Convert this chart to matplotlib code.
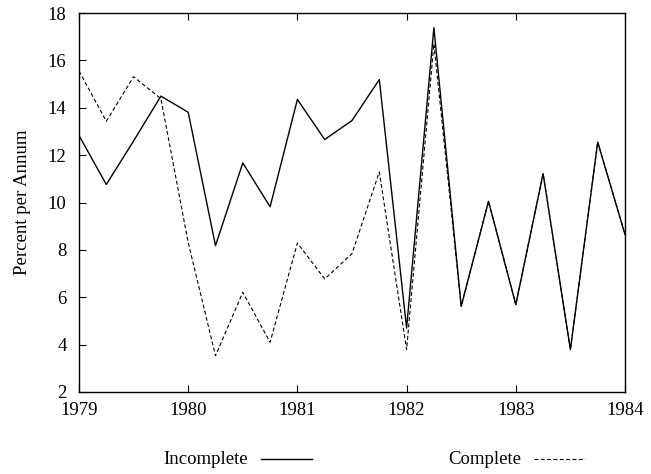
import matplotlib
matplotlib.use("Agg")
import matplotlib.pyplot as plt
from matplotlib.lines import Line2D

plt.rcParams['font.family'] = ['Liberation Serif', 'DejaVu Serif']

quarters = [1979.0, 1979.25, 1979.5, 1979.75, 1980.0, 1980.25, 1980.5, 1980.75,
            1981.0, 1981.25, 1981.5, 1981.75, 1982.0, 1982.25, 1982.5, 1982.75,
            1983.0, 1983.25, 1983.5, 1983.75, 1984.0]
incomplete = [12.83, 10.76, 12.6, 14.49, 13.81, 8.18, 11.67, 9.82,
              14.35, 12.66, 13.46, 15.19, 4.70, 17.38, 5.62, 10.05,
              5.69, 11.22, 3.79, 12.55, 8.65]
complete = [15.55, 13.43, 15.31, 14.38, 8.31, 3.53, 6.21, 4.10,
            8.29, 6.77, 7.84, 11.29, 3.79, 16.7, 5.62, 10.05,
            5.69, 11.22, 3.79, 12.55, 8.65]
xticks = [1979, 1980, 1981, 1982, 1983, 1984]
yticks = [2, 4, 6, 8, 10, 12, 14, 16, 18]

FS = 13.5
DASH = (0, (3.5, 2.2))

fig = plt.figure(figsize=(6.51, 4.74), dpi=100)
ax = fig.add_axes([79/651, 1 - 392/474, (625-79)/651, (392-13)/474])

ax.plot(quarters, incomplete, color='black', lw=1.0, ls='-')
ax.plot(quarters, complete, color='black', lw=0.8, ls=DASH)

ax.set_xlim(1979, 1984)
ax.set_ylim(2, 18)
ax.set_xticks(xticks)
ax.set_xticklabels([str(t) for t in xticks])
ax.set_yticks(yticks)
ax.tick_params(direction='in', length=5, width=0.8, labelsize=FS, top=True, right=False)
ax.tick_params(axis='y', pad=9)
ax.tick_params(axis='x', pad=7)
for s in ax.spines.values():
    s.set_linewidth(1.0)
ax.set_ylabel('Percent per Annum', fontsize=FS)
ax.yaxis.set_label_coords(-0.087, 0.5)

# Legend drawn below
ly = 1 - 459/474
fig.text(206/651, ly, 'Incomplete', ha='center', va='center', fontsize=FS)
fig.add_artist(Line2D([261/651, 312/651], [ly, ly], color='black', lw=1.0))
fig.text(485/651, ly, 'Complete', ha='center', va='center', fontsize=FS)
fig.add_artist(Line2D([534/651, 585/651], [ly, ly], color='black', lw=0.8, ls=DASH))

fig.savefig('out.png', dpi=100)
